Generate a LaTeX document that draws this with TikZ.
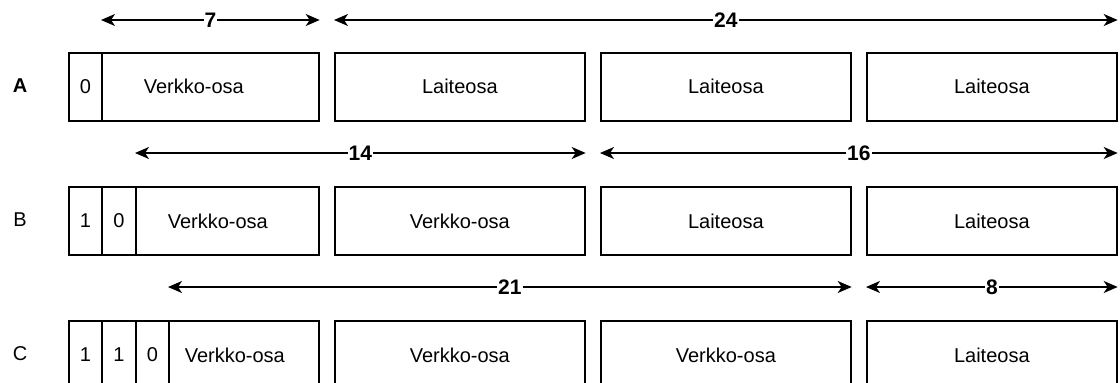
\documentclass[tikz,border=0pt]{standalone}
\usepackage{fontspec}
\setmainfont{Liberation Sans}
\usetikzlibrary{arrows.meta}

\tikzset{
  cell/.style={draw, line width=1.7pt, anchor=north west, minimum height=68pt,
    inner sep=0pt, font=\fontsize{20}{24}\selectfont},
  cellname/.style={font=\fontsize{20}{24}\selectfont},
  dimline/.style={line width=1.6pt,
    {Stealth[length=14pt,width=12pt,inset=4pt]}-{Stealth[length=14pt,width=12pt,inset=4pt]}},
  bits/.style={fill=white, inner sep=1pt, font=\fontsize{21}{24}\selectfont\bfseries},
  rowname/.style={font=\fontsize{20}{24}\selectfont}
}

\begin{document}
\begin{tikzpicture}[x=1pt,y=-1pt]
	\useasboundingbox (0,0) rectangle (1120,383);
	\clip (0,0) rectangle (1120,383);

	% luokka A
	\node[rowname, font=\fontsize{20}{24}\selectfont\bfseries] (la) at (20,86) {A};
	\node[cell, minimum width=33pt] (a0) at (68,52) {0};
	\node[cell, minimum width=217pt, label={[cellname, xshift=-16.5pt]center:Verkko-osa}] (a1) at (101,52) {};
	\node[cell, minimum width=250pt] (a2) at (334,52) {Laiteosa};
	\node[cell, minimum width=250pt] (a3) at (600,52) {Laiteosa};
	\node[cell, minimum width=250pt] (a4) at (866,52) {Laiteosa};
	\draw[dimline] ([yshift=32pt]a1.north west) -- node[bits]{7} ([yshift=32pt]a1.north east);
	\draw[dimline] ([yshift=32pt]a2.north west) -- node[bits]{24} ([yshift=32pt]a4.north east);

	% luokka B
	\node[rowname] (lb) at (20,220) {B};
	\node[cell, minimum width=33pt] (b0) at (68,186) {1};
	\node[cell, minimum width=34pt] (b1) at (101,186) {0};
	\node[cell, minimum width=183pt, label={[cellname, xshift=-9.5pt]center:Verkko-osa}] (b2) at (135,186) {};
	\node[cell, minimum width=250pt] (b3) at (334,186) {Verkko-osa};
	\node[cell, minimum width=250pt] (b4) at (600,186) {Laiteosa};
	\node[cell, minimum width=250pt] (b5) at (866,186) {Laiteosa};
	\draw[dimline] ([yshift=33pt]b2.north west) -- node[bits]{14} ([yshift=33pt]b3.north east);
	\draw[dimline] ([yshift=33pt]b4.north west) -- node[bits]{16} ([yshift=33pt]b5.north east);

	% luokka C
	\node[rowname] (lc) at (20,354) {C};
	\node[cell, minimum width=33pt] (c0) at (68,320) {1};
	\node[cell, minimum width=34pt] (c1) at (101,320) {1};
	\node[cell, minimum width=33pt] (c2) at (135,320) {0};
	\node[cell, minimum width=150pt, label={[cellname, xshift=-9pt]center:Verkko-osa}] (c3) at (168,320) {};
	\node[cell, minimum width=250pt] (c4) at (334,320) {Verkko-osa};
	\node[cell, minimum width=250pt] (c5) at (600,320) {Verkko-osa};
	\node[cell, minimum width=250pt] (c6) at (866,320) {Laiteosa};
	\draw[dimline] ([yshift=33pt]c3.north west) -- node[bits]{21} ([yshift=33pt]c5.north east);
	\draw[dimline] ([yshift=33pt]c6.north west) -- node[bits]{8} ([yshift=33pt]c6.north east);
\end{tikzpicture}
\end{document}
